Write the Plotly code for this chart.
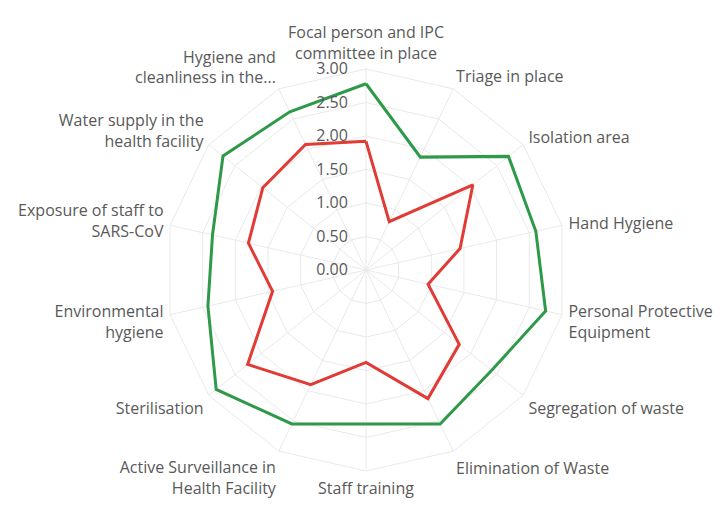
import plotly.graph_objects as go

categories = [
    "Focal person and IPC<br>committee in place",
    "Triage in place",
    "Isolation area",
    "Hand Hygiene",
    "Personal Protective<br>Equipment",
    "Segregation of waste",
    "Elimination of Waste",
    "Staff training",
    "Active Surveillance in<br>Health Facility",
    "Sterilisation",
    "Environmental<br>hygiene",
    "Exposure of staff to<br>SARS-CoV",
    "Water supply in the<br>health facility",
    "Hygiene and<br>cleanliness in the...",
]

green_values = [2.78, 1.87, 2.72, 2.60, 2.75, 2.40, 2.55, 2.30, 2.55, 2.86, 2.42, 2.35, 2.73, 2.62]
red_values = [1.92, 0.80, 2.04, 1.44, 0.95, 1.78, 2.13, 1.38, 1.90, 2.26, 1.43, 1.80, 1.97, 2.08]

radial_ticks = [0, 0.5, 1.0, 1.5, 2.0, 2.5, 3.0]

GREEN = "#2E9A49"
RED = "#E23B36"
GRID = "#E9E9E9"
TEXT = "#595959"

W, H = 727, 513
OFF = 8          # page body margin
CX, CY, R = 366 - OFF, 270 - OFF, 201

fig = go.Figure()
for vals, col in [(green_values, GREEN), (red_values, RED)]:
    fig.add_trace(go.Scatterpolar(
        r=vals + vals[:1],
        theta=categories + categories[:1],
        mode="lines",
        line=dict(color=col, width=3),
        showlegend=False,
        hoverinfo="skip",
    ))

fig.update_layout(
    width=W, height=H,
    margin=dict(l=0, r=0, t=0, b=0),
    paper_bgcolor="white",
    plot_bgcolor="white",
    font=dict(family="Open Sans, Liberation Sans, sans-serif", size=16, color=TEXT),
    polar=dict(
        domain=dict(x=[(CX - R) / W, (CX + R) / W],
                    y=[1 - (CY + R) / H, 1 - (CY - R) / H]),
        bgcolor="white",
        gridshape="linear",
        angularaxis=dict(
            direction="clockwise",
            rotation=90,
            showline=True,
            linecolor=GRID,
            linewidth=1,
            gridcolor=GRID,
            gridwidth=1,
            ticks="outside",
            ticklen=3,
            tickcolor="rgba(0,0,0,0)",
            tickfont=dict(size=16, color=TEXT),
        ),
        radialaxis=dict(
            range=[0, 3],
            tickvals=radial_ticks,
            tickformat=".2f",
            angle=90,
            tickangle=90,
            side="counterclockwise",
            showline=False,
            gridcolor=GRID,
            gridwidth=1,
            ticks="outside",
            ticklen=12,
            tickcolor="rgba(0,0,0,0)",
            tickfont=dict(size=16, color=TEXT),
        ),
    ),
)

fig.write_html("out.html")
